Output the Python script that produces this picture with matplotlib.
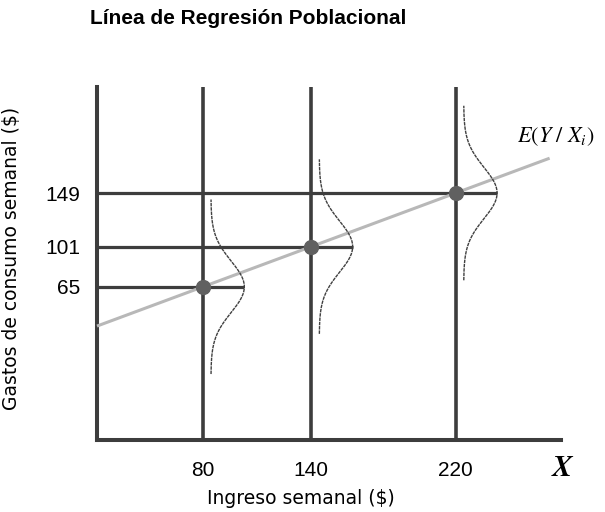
import matplotlib.pyplot as plt
import numpy as np

# datos del esquema
ingreso = [80, 140, 220]          # X
gasto_medio = [65, 101, 149]      # E(Y | X)
intercepto = 17
pendiente = 0.6
sigma = 23                        # dispersion de cada distribucion condicional

fig = plt.figure(figsize=(6.05, 5.12), dpi=100)
ax = fig.add_axes([97/605, 1-440/512, 464/605, 353/512])
ax.set_xlim(21.3, 278.3)
ax.set_ylim(-72.3, 244)

gris = '#3d3d3d'

# lineas verticales en cada X
for x in ingreso:
    ax.axvline(x, color=gris, lw=2.6, zorder=2)

# recta de regresion poblacional
xr = np.array([21.3, 272])
ax.plot(xr, intercepto + pendiente * xr, color='#b8b8b8', lw=2.2, zorder=3,
        solid_capstyle='butt', clip_on=False)

# distribuciones condicionales y horizontales
for x, m in zip(ingreso, gasto_medio):
    yy = np.linspace(m - 3.4 * sigma, m + 3.4 * sigma, 200)
    xx = x + 4.4 + 18.5 * np.exp(-0.5 * ((yy - m) / sigma) ** 2)
    ax.plot(xx, yy, color='#404040', lw=1.0, ls=(0, (2.5, 0.6)), zorder=3)
    ax.plot([21.3, x + 22.9], [m, m], color=gris, lw=2.3, zorder=2,
            solid_capstyle='butt')
    ax.plot(x, m, 'o', ms=10, color='#606060', zorder=4)

for s in ['top', 'right']:
    ax.spines[s].set_visible(False)
for s in ['left', 'bottom']:
    ax.spines[s].set_linewidth(2.9)
    ax.spines[s].set_color(gris)

ax.set_xticks(ingreso)
ax.set_xticklabels([str(v) for v in ingreso], fontsize=15, family='Liberation Sans')
ax.set_yticks(gasto_medio)
ax.set_yticklabels([str(v) for v in gasto_medio], fontsize=15, family='Liberation Sans')
ax.tick_params(axis='x', length=0, pad=15)
ax.tick_params(axis='y', length=0, pad=12)

plt.rcParams['mathtext.fontset'] = 'stix'
fig.text(248/605, 1-19/512, 'Línea de Regresión Poblacional', ha='center', va='center',
         fontsize=15, fontweight='bold', family='Liberation Sans')
fig.text(301/605, 1-499/512, 'Ingreso semanal ($)', ha='center', va='center',
         fontsize=13.5, family='DejaVu Sans')
fig.text(12/605, 1-258/512, 'Gastos de consumo semanal ($)', ha='center', va='center',
         rotation=90, fontsize=13.5, family='DejaVu Sans')
fig.text(563/605, 1-467/512, r'$\boldsymbol{X}$', ha='center', va='center', fontsize=22)
fig.text(556/605, 1-137/512, r'$E\left(Y\ /\ X_i\right)$', ha='center', va='center',
         fontsize=16)

fig.savefig('out.png', dpi=100, facecolor='white')
